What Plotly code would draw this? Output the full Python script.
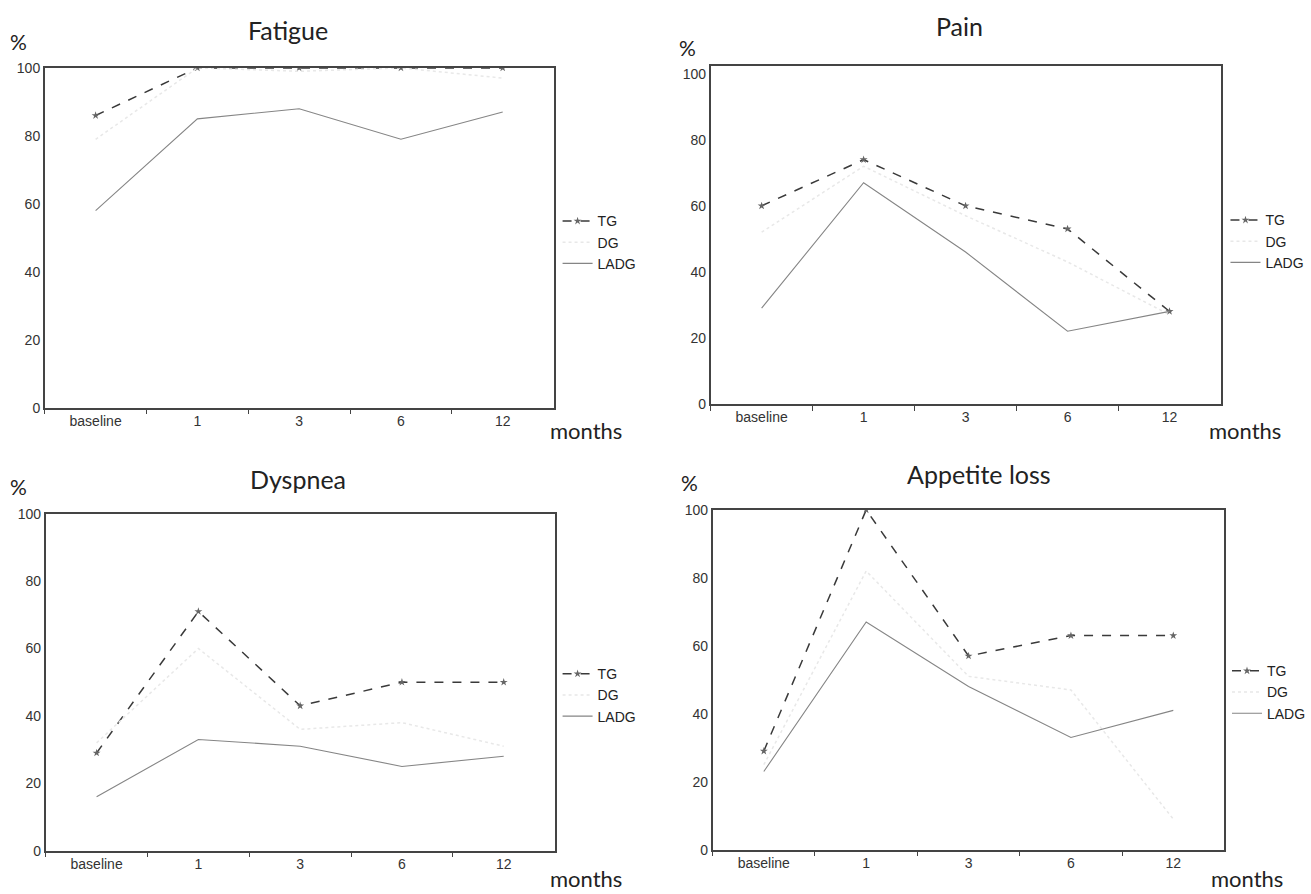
import plotly.graph_objects as go

W, H = 1311, 894

categories = ["baseline", "1", "3", "6", "12"]
series_names = ["TG", "DG", "LADG"]

panel_titles = ["Fatigue", "Pain", "Dyspnea", "Appetite loss"]

fatigue_tg = [86, 100, 100, 100, 100]
fatigue_dg = [79, 100, 99, 100, 97]
fatigue_ladg = [58, 85, 88, 79, 87]

pain_tg = [60, 74, 60, 53, 28]
pain_dg = [52, 72, 57, 43, 27]
pain_ladg = [29, 67, 46, 22, 28]

dyspnea_tg = [29, 71, 43, 50, 50]
dyspnea_dg = [32, 60, 36, 38, 31]
dyspnea_ladg = [16, 33, 31, 25, 28]

appetite_tg = [29, 100, 57, 63, 63]
appetite_dg = [25, 82, 51, 47, 9]
appetite_ladg = [23, 67, 48, 33, 41]

y_tick_vals = [0, 20, 40, 60, 80, 100]

panels_data = [
    (fatigue_tg, fatigue_dg, fatigue_ladg),
    (pain_tg, pain_dg, pain_ladg),
    (dyspnea_tg, dyspnea_dg, dyspnea_ladg),
    (appetite_tg, appetite_dg, appetite_ladg),
]

# pixel geometry of each plot box: (left, right, top, bottom, ymax)
boxes = [
    (45, 557, 61, 407, 100),
    (715, 1228, 59, 403, 102.4),
    (46, 558, 515, 858, 100),
    (717, 1232, 511, 857, 100),
]
legend_pos = [(561, 201), (1233, 200), (561, 662), (1235, 659)]
title_pos = [(290, 22), (965, 18), (300, 480), (985, 475)]
pct_pos = [(19, 34), (692, 40), (19, 487), (694, 483)]
months_pos = [(590, 430), (1253, 430), (590, 886), (1255, 886)]

styles = {
    "TG": dict(line=dict(color="#3a3a3a", width=1.5, dash="dash"),
               marker=dict(symbol="star", size=6, color="#666666"), mode="lines+markers"),
    "DG": dict(line=dict(color="#e8e8e8", width=1.5, dash="dot"), mode="lines"),
    "LADG": dict(line=dict(color="#858585", width=1.1), mode="lines"),
}

fig = go.Figure()
annotations = []
layout = dict(
    width=W, height=H, margin=dict(l=0, r=0, t=0, b=0),
    paper_bgcolor="white", plot_bgcolor="white", showlegend=True,
    font=dict(family="Liberation Sans, Arial", color="#333333"),
)

for i, (data, box) in enumerate(zip(panels_data, boxes)):
    n = i + 1
    xa = "x" if n == 1 else f"x{n}"
    ya = "y" if n == 1 else f"y{n}"
    lg = "legend" if n == 1 else f"legend{n}"
    for name, vals in zip(series_names, data):
        fig.add_trace(go.Scatter(x=categories, y=vals, name=name, xaxis=xa, yaxis=ya,
                                 legend=lg, showlegend=True, **styles[name]))
    l, r, t, b, ymax = box
    xk = "xaxis" if n == 1 else f"xaxis{n}"
    yk = "yaxis" if n == 1 else f"yaxis{n}"
    layout[xk] = dict(domain=[l / W, r / W], anchor=ya, type="category",
                      categoryorder="array", categoryarray=categories,
                      range=[-0.5, 4.5], tickson="boundaries", ticks="outside",
                      ticklen=5, tickcolor="#444", showline=True, linecolor="#444",
                      linewidth=1.5, mirror=True, showgrid=False, zeroline=False,
                      tickfont=dict(size=14, color="#333"))
    layout[yk] = dict(domain=[1 - b / H, 1 - t / H], anchor=xa, range=[0, ymax],
                      tickvals=y_tick_vals, showline=True, linecolor="#444",
                      linewidth=1.5, mirror=True, showgrid=False, zeroline=False,
                      ticks="", tickfont=dict(size=14, color="#333"))
    lx, ly = legend_pos[i]
    layout[lg] = dict(x=lx / W, y=1 - ly / H, xanchor="left", yanchor="top",
                      xref="paper", yref="paper", bgcolor="rgba(0,0,0,0)",
                      font=dict(size=14, color="#222"), itemwidth=30,
                      tracegroupgap=0, borderwidth=0)
    tx, ty = title_pos[i]
    annotations.append(dict(text=panel_titles[i], x=tx / W, y=1 - ty / H, xref="paper",
                            yref="paper", showarrow=False, xanchor="center", yanchor="middle",
                            font=dict(family="Lato, Open Sans", size=25, color="#222")))
    px, py = pct_pos[i]
    annotations.append(dict(text="%", x=px / W, y=1 - py / H, xref="paper", yref="paper",
                            showarrow=False, xanchor="center", yanchor="middle",
                            font=dict(family="Lato, Open Sans", size=21, color="#222")))
    mx, my = months_pos[i]
    annotations.append(dict(text="months", x=mx / W, y=1 - my / H, xref="paper", yref="paper",
                            showarrow=False, xanchor="center", yanchor="middle",
                            font=dict(family="Lato, Open Sans", size=22, color="#222")))

layout["annotations"] = annotations
fig.update_layout(**layout)
fig.write_html("out.html")
